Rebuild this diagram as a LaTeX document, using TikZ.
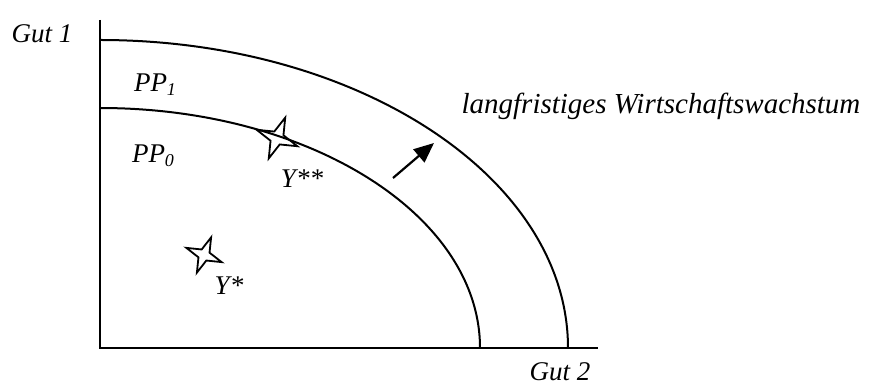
\documentclass[tikz,border=0pt]{standalone}
\usepackage{fontspec}
\setmainfont{Liberation Serif}
\usetikzlibrary{arrows.meta}
\begin{document}
\begin{tikzpicture}[x=1pt,y=1pt,
  axis/.style={line width=2.6pt},
  curve/.style={line width=2pt},
  lbl/.style={font=\fontsize{27}{30}\selectfont\itshape, inner sep=0pt, anchor=base},
  biglbl/.style={font=\fontsize{29}{32}\selectfont\itshape, inner sep=0pt, anchor=base},
  starshape/.style={line width=1.8pt, line join=miter},
  growarrow/.style={line width=2.2pt, -{Triangle[length=20pt,width=17pt]}}]
\useasboundingbox (0,0) rectangle (870,388);
% axes
\coordinate (O) at (100,40);
\coordinate (ytop) at (100,368);
\coordinate (xend) at (598,40);
\draw[axis] (ytop) -- (O) -- (xend);
% production possibility curves
\coordinate (p1s) at (100,348);
\coordinate (p0s) at (100,280);
\draw[curve] (p1s) arc[start angle=90,end angle=0,x radius=468,y radius=308];
\draw[curve] (p0s) arc[start angle=90,end angle=0,x radius=380,y radius=240];
% stars
\coordinate (s2) at (277,250);
\coordinate (s1) at (204,133);
\begin{scope}[shift={(s2)}, rotate=-22]
  \draw[starshape] (90:22) -- (45:7) -- (0:22) -- (-45:7) -- (-90:22) -- (-135:7) -- (180:22) -- (135:7) -- cycle;
\end{scope}
\begin{scope}[shift={(s1)}, rotate=-22]
  \draw[starshape] (90:19) -- (45:6) -- (0:19) -- (-45:6) -- (-90:19) -- (-135:6) -- (180:19) -- (135:6) -- cycle;
\end{scope}
% arrow
\coordinate (a1) at (393,210);
\coordinate (a2) at (434,245);
\draw[growarrow] (a1) -- (a2);
% labels
\node[lbl] (gut1) at (42,345) {Gut 1};
\node[lbl] (gut2) at (560,7) {Gut 2};
\node[lbl] (pp1) at (155,296) {PP\raisebox{-0.25ex}{\fontsize{18}{18}\selectfont 1}};
\node[lbl] (pp0) at (153,225) {PP\raisebox{-0.25ex}{\fontsize{18}{18}\selectfont 0}};
\node[lbl] (y2) at (302,200) {Y**};
\node[lbl] (y1) at (229,93) {Y*};
\node[biglbl] (lw) at (661,274) {langfristiges Wirtschaftswachstum};
\end{tikzpicture}
\end{document}
